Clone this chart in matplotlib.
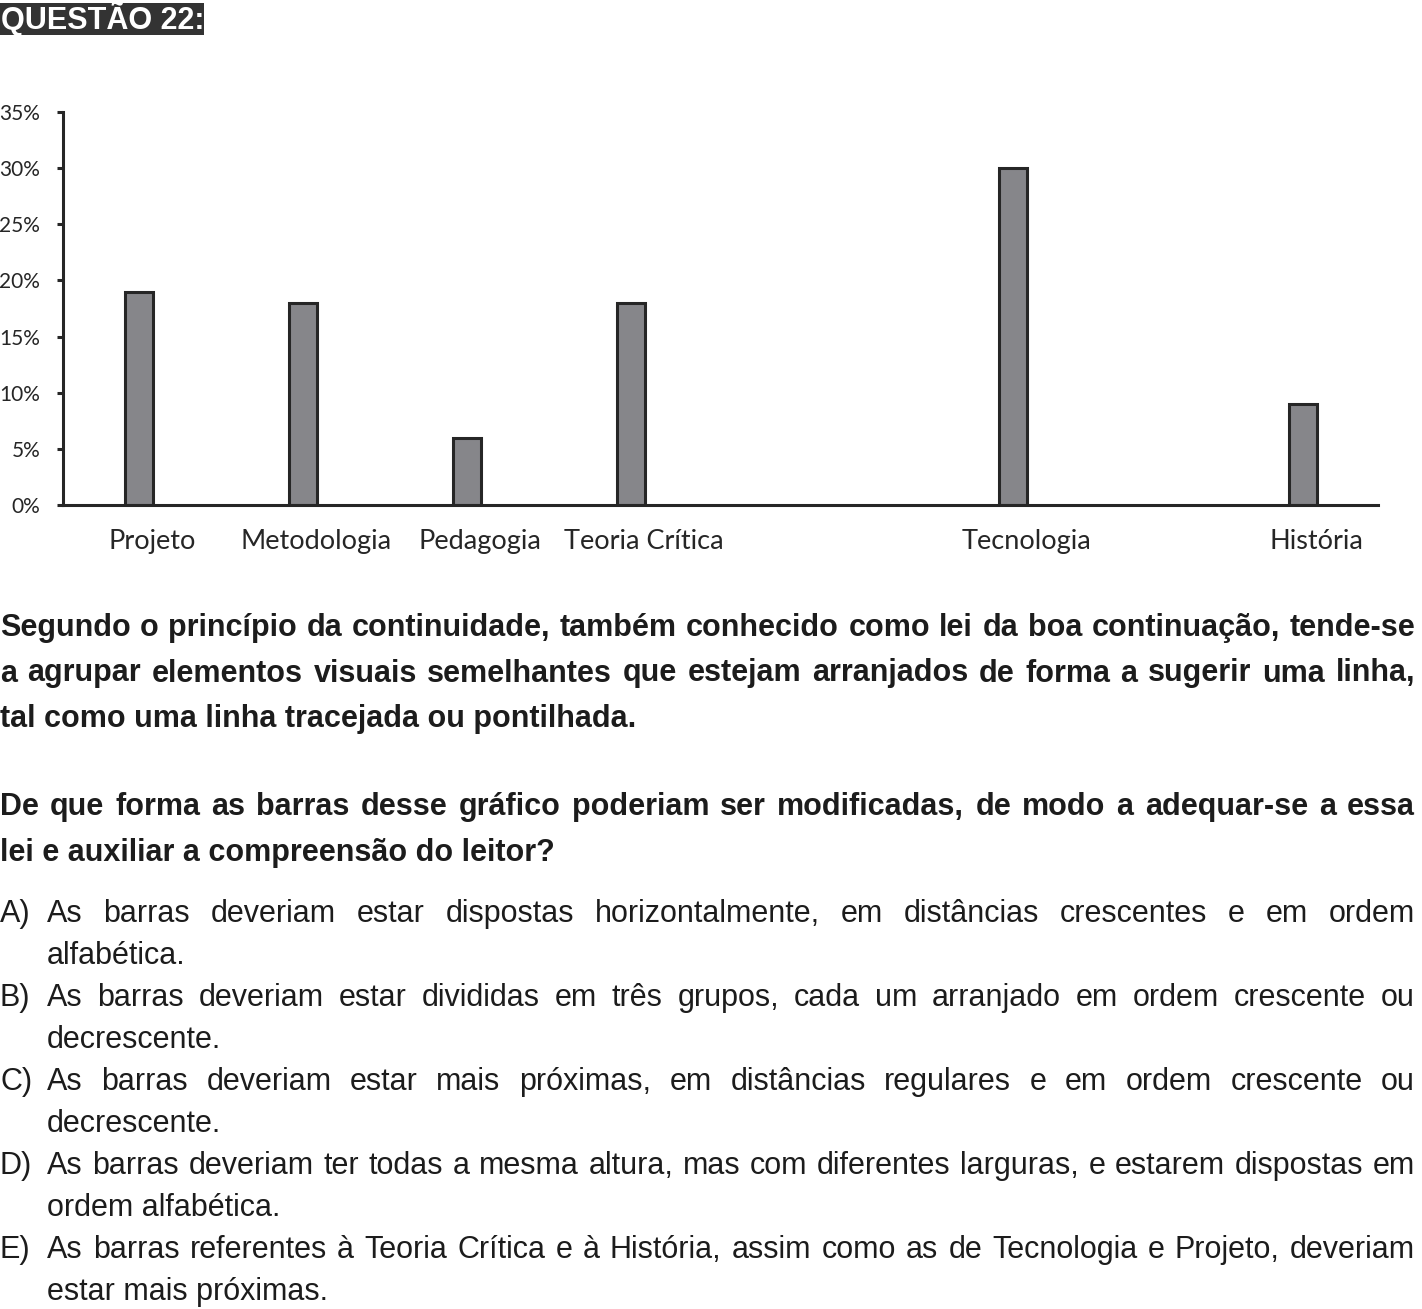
import matplotlib
matplotlib.use("Agg")
import matplotlib.pyplot as plt
from matplotlib.font_manager import FontProperties
from matplotlib.patches import Rectangle

# chart data
categories = ['Projeto', 'Metodologia', 'Pedagogia', 'Teoria Crítica', 'Tecnologia', 'História']
percent = [19, 18, 6, 18, 30, 9]
xpos = [0, 1, 2, 3, 5.33, 7.1]   # the bars are spaced unevenly in the original
yticks = [0, 5, 10, 15, 20, 25, 30, 35]

title = 'QUESTÃO 22:'
para1 = ['Segundo o princípio da continuidade, também conhecido como lei da boa continuação, tende-se',
         'a agrupar elementos visuais semelhantes que estejam arranjados de forma a sugerir uma linha,',
         'tal como uma linha tracejada ou pontilhada.']
para2 = ['De que forma as barras desse gráfico poderiam ser modificadas, de modo a adequar-se a essa',
         'lei e auxiliar a compreensão do leitor?']
option_keys = ['A)', 'B)', 'C)', 'D)', 'E)']
options = [
    ['As barras deveriam estar dispostas horizontalmente, em distâncias crescentes e em ordem', 'alfabética.'],
    ['As barras deveriam estar divididas em três grupos, cada um arranjado em ordem crescente ou', 'decrescente.'],
    ['As barras deveriam estar mais próximas, em distâncias regulares e em ordem crescente ou', 'decrescente.'],
    ['As barras deveriam ter todas a mesma altura, mas com diferentes larguras, e estarem dispostas em', 'ordem alfabética.'],
    ['As barras referentes à Teoria Crítica e à História, assim como as de Tecnologia e Projeto, deveriam', 'estar mais próximas.'],
]

W, H = 1422, 1309
TXT = '#1c1c1c'
INK = '#262626'
SANS = 'Liberation Sans'
CHART_FONT = 'Lato'

fig = plt.figure(figsize=(W / 100, H / 100), dpi=100)
renderer = fig.canvas.get_renderer()


def fx(px):
    return px / W


def fy(py):
    return 1 - py / H


def put_line(text, x0, x1, base, size, weight, justify):
    if not justify:
        fig.text(fx(x0), fy(base), text, fontsize=size, fontweight=weight,
                 family=SANS, color=TXT, va='baseline', ha='left')
        return
    # justified line: place every word separately
    prop = FontProperties(family=SANS, size=size, weight=weight)
    words = text.split(' ')
    widths = [renderer.get_text_width_height_descent(w, prop, ismath=False)[0] for w in words]
    gap = (x1 - x0 - sum(widths)) / (len(words) - 1)
    x = x0
    for w, wd in zip(words, widths):
        fig.text(fx(x), fy(base), w, fontproperties=prop, color=TXT, va='baseline', ha='left')
        x += wd + gap


# title block
fig.patches.append(Rectangle((0, fy(35)), fx(204), fy(3) - fy(35),
                             transform=fig.transFigure, facecolor='#333333', edgecolor='none'))
fig.text(fx(1), fy(29), title, fontsize=22, fontweight='bold', family=SANS,
         color='white', va='baseline', ha='left')

# bar chart
ax = fig.add_axes([fx(63), fy(505), fx(1378) - fx(63), fy(112) - fy(505)])
ax.bar(xpos, percent, width=0.171, color='#86868a', edgecolor=INK, linewidth=2.2)
ax.set_xlim(-0.463, 7.555)
ax.set_ylim(0, 35)
ax.set_yticks(yticks)
ax.set_yticklabels([f'{v}%' for v in yticks], family=CHART_FONT, fontsize=15, color=INK)
ax.set_xticks([])
for x, cat in zip(xpos, categories):
    ax.annotate(cat, (x, 0), xycoords=('data', 'axes fraction'), xytext=(9.4, -31.5),
                textcoords='offset points', ha='center', va='baseline',
                family=CHART_FONT, fontsize=19.5, color=INK)
ax.tick_params(axis='y', length=4.5, width=2.2, color=INK, pad=12)
for side in ['top', 'right']:
    ax.spines[side].set_visible(False)
for side in ['left', 'bottom']:
    ax.spines[side].set_linewidth(2.2)
    ax.spines[side].set_color(INK)

# question text
RIGHT = 1415
for i, line in enumerate(para1):
    put_line(line, 0, RIGHT, 636 + 45.5 * i, 22, 'bold', i < len(para1) - 1)
for i, line in enumerate(para2):
    put_line(line, 0, RIGHT, 815 + 45.5 * i, 22, 'bold', i < len(para2) - 1)

base = 922
for key, lines in zip(option_keys, options):
    fig.text(fx(0), fy(base), key, fontsize=22, family=SANS, color=TXT, va='baseline')
    put_line(lines[0], 47, RIGHT, base, 22, 'normal', True)
    put_line(lines[1], 47, RIGHT, base + 42, 22, 'normal', False)
    base += 84

fig.savefig('out.png', dpi=100, facecolor='white')
